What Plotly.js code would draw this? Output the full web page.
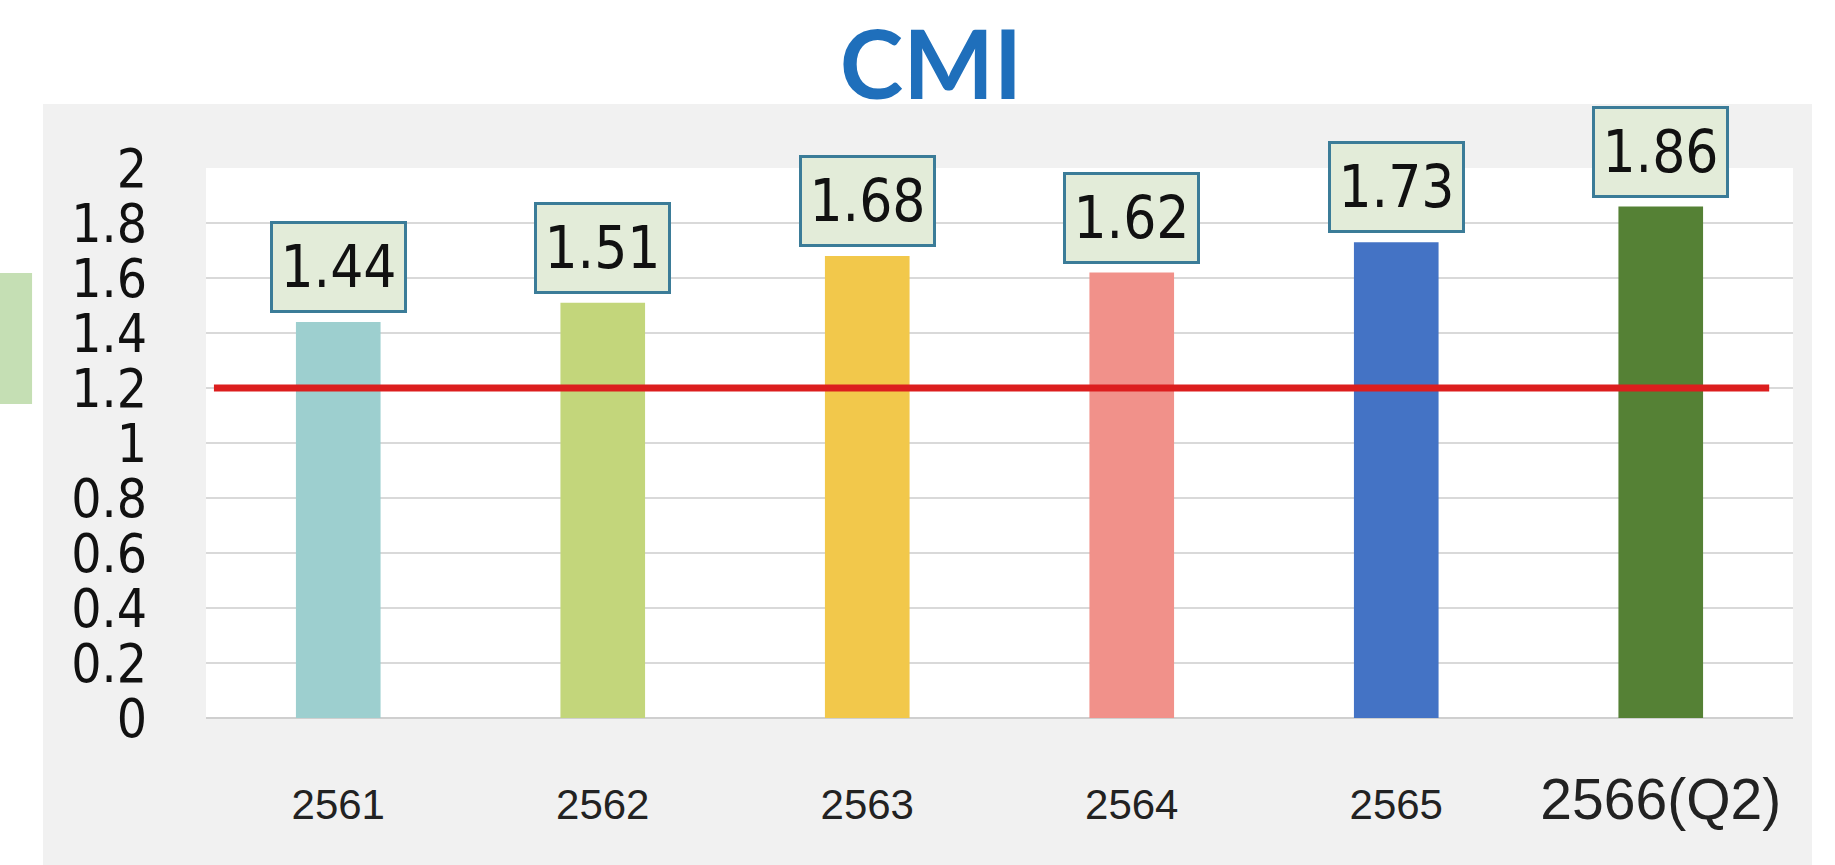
<!DOCTYPE html>
<html>
<head>
<meta charset="utf-8">
<script src="https://cdn.plot.ly/plotly-3.0.1.min.js"></script>
<style>html,body{margin:0;padding:0;background:#fff;}#chart{width:1835px;height:865px;}</style>
</head>
<body>
<div id="chart"></div>
<script>
// ---- data ----
const categories = ["2561", "2562", "2563", "2564", "2565", "2566(Q2)"];
const cmiValues = [1.44, 1.51, 1.68, 1.62, 1.73, 1.86];
const barColors = ["#9dcfcf", "#c3d67b", "#f2c84b", "#f1918a", "#4473c5", "#558135"];
const threshold = 1.2;
const chartTitle = "CMI";

// tick labels: the last one is drawn larger in the original
const tickLabels = categories.map((c, i) =>
  i === categories.length - 1
    ? '<span style="font-family:Liberation Sans;font-size:57px">' + c + '</span>'
    : c);
const catIndex = categories.map((c, i) => i);

const bars = {
  type: "bar",
  x: catIndex,
  y: cmiValues,
  marker: { color: barColors, line: { width: 0 } },
  hoverinfo: "y",
  showlegend: false
};

const labelAnnotations = catIndex.map(i => ({
  x: i, y: cmiValues[i], xref: "x", yref: "y",
  text: cmiValues[i].toFixed(2),
  showarrow: false,
  yanchor: "bottom", yshift: 9,
  width: 125, height: 80,
  bgcolor: "#e3ecd9",
  bordercolor: "#3b7c98", borderwidth: 3, borderpad: 3,
  font: { family: "DejaVu Sans Condensed, Liberation Sans, sans-serif", size: 58, color: "#111" }
}));

const layout = {
  width: 1835, height: 865,
  margin: { l: 206, r: 42, t: 168, b: 147 },
  paper_bgcolor: "#f1f1f1",
  plot_bgcolor: "#ffffff",
  title: {
    text: "<b>" + chartTitle + "</b>",
    font: { family: "Lato, Open Sans, sans-serif", size: 96, color: "#1f6fbb" },
    x: 931 / 1835, xanchor: "center", xref: "container",
    y: 1 - 65 / 865, yanchor: "middle", yref: "container"
  },
  xaxis: {
    type: "linear",
    range: [-0.5, categories.length - 0.5],
    autorange: false,
    tickmode: "array",
    tickvals: catIndex,
    ticktext: tickLabels,
    tickangle: 0,
    tickfont: { family: "Liberation Sans Narrow, Liberation Sans, sans-serif", size: 42, color: "#222" },
    ticks: "", showgrid: false, zeroline: false, showline: false,
    ticklabelstandoff: 58,
    fixedrange: true
  },
  yaxis: {
    range: [0, 2],
    autorange: false,
    dtick: 0.2, tick0: 0,
    tickfont: { family: "DejaVu Sans Condensed, Liberation Sans, sans-serif", size: 53, color: "#111" },
    gridcolor: "#d9d9d9", gridwidth: 2,
    zeroline: true, zerolinecolor: "#cfcfcf", zerolinewidth: 2,
    showline: false, ticks: "",
    ticklabelstandoff: 58,
    fixedrange: true
  },
  bargap: 0.68,
  annotations: labelAnnotations,
  shapes: [
    // white surround outside the grey chart panel
    { type: "rect", xref: "paper", yref: "paper", x0: -1, x1: 2, y0: 1.1164, y1: 2,
      fillcolor: "#ffffff", line: { width: 0 }, layer: "below" },
    { type: "rect", xref: "paper", yref: "paper", x0: -1, x1: -0.1027, y0: -1, y1: 2,
      fillcolor: "#ffffff", line: { width: 0 }, layer: "below" },
    { type: "rect", xref: "paper", yref: "paper", x0: 1.012, x1: 2, y0: -1, y1: 2,
      fillcolor: "#ffffff", line: { width: 0 }, layer: "below" },
    // green block at the far left
    { type: "rect", xref: "paper", yref: "paper", x0: -1, x1: -0.1096, y0: 0.571, y1: 0.809,
      fillcolor: "#c5dfb4", line: { width: 0 }, layer: "below" },
    // threshold line
    { type: "line", xref: "paper", yref: "y", x0: 0.005, x1: 0.985, y0: threshold, y1: threshold,
      line: { color: "#dc1e1e", width: 7 }, layer: "above" }
  ]
};

Plotly.newPlot("chart", [bars], layout, { displayModeBar: false, staticPlot: true });
</script>
</body>
</html>
